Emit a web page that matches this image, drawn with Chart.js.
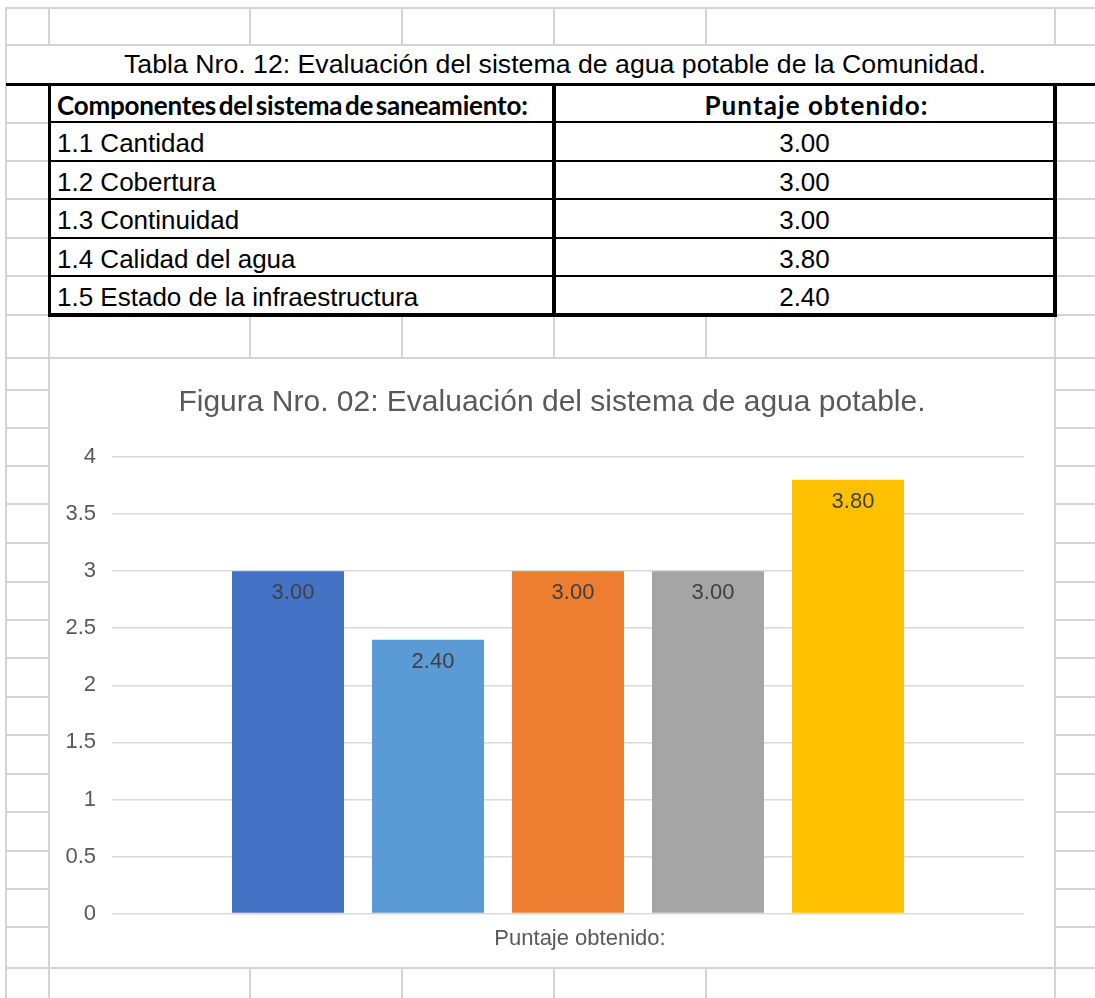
<!DOCTYPE html>
<html lang="es">
<head>
<meta charset="utf-8">
<title>Evaluación del sistema de agua potable</title>
<script src="https://cdn.jsdelivr.net/npm/chart.js@4.4.1/dist/chart.umd.min.js"></script>
<style>
  html, body { margin: 0; padding: 0; background: #fff; }
  #hoja { position: relative; width: 1095px; height: 998px; overflow: hidden; background: #fff;
          font-family: "Liberation Sans", Arial, sans-serif; color: #000; }
  .lin { position: absolute; background: #d4d4d4; }
  .blanco { position: absolute; background: #fff; }
  .negro { position: absolute; background: #000; }
  .txt { position: absolute; height: 38px; line-height: 38px; font-size: 26px; white-space: nowrap; }
  .cab { font-family: Lato, "Noto Sans", sans-serif; font-weight: bold; }
  #grafico { position: absolute; left: 50px; top: 359px; width: 1004px; height: 608px; background: #fff; }
</style>
</head>
<body>
<div id="hoja">
  <div id="grafico"><canvas id="evaluacionChart"></canvas></div>
</div>
<script>
// Datos de la tabla y de la figura
const componentes = [
    "1.1 Cantidad",
    "1.2 Cobertura",
    "1.3 Continuidad",
    "1.4 Calidad del agua",
    "1.5 Estado de la infraestructura",
];
const puntajes = [3.00, 3.00, 3.00, 3.80, 2.40];
// Orden en que aparecen las barras en la figura (índices de componentes)
const ordenFigura = [0, 4, 1, 2, 3];
const categoriaEje = ["Puntaje obtenido:"];
const encabezados = ["Componentes del sistema de saneamiento:", "Puntaje obtenido:"];

const colores = ["#4472C4", "#5B9BD5", "#ED7D31", "#A5A5A5", "#FFC000"];

// Cuadrícula de la hoja de cálculo
const hoja = document.getElementById("hoja");
const grafico = document.getElementById("grafico");

function caja(clase, x, y, w, h, texto) {
    const d = document.createElement("div");
    d.className = clase;
    d.style.left = x + "px";
    d.style.top = y + "px";
    if (w != null) d.style.width = w + "px";
    if (h != null) d.style.height = h + "px";
    if (texto != null) d.textContent = texto;
    hoja.insertBefore(d, grafico);
    return d;
}

const colX = [6, 49, 250, 402, 554, 706, 1055];
const filaY = [8, 45, 84, 123, 161, 199, 238, 276, 315, 358, 390, 428, 466, 504, 543,
               582, 620, 658, 697, 735, 774, 812, 851, 889, 927, 968];

colX.forEach(x => caja("lin", x - 1, 8, 2, 990));
filaY.forEach(y => caja("lin", 5, y - 1, 1090, 2));

// Fila del título (celdas combinadas) y zona de la tabla
caja("blanco", 7, 46, 1088, 37);
caja("blanco", 48, 83, 1009, 234);

const t = caja("txt", 4, 45, 1102, null, "Tabla Nro. 12: Evaluación del sistema de agua potable de la Comunidad.");
t.style.textAlign = "center";
t.style.fontSize = "26.7px";

// Bordes de la tabla
caja("negro", 6, 83, 1089, 3);
caja("negro", 48, 83, 3, 234);
caja("negro", 1053, 83, 4, 234);
caja("negro", 552, 83, 4, 234);
caja("negro", 48, 313, 1009, 4);
[122, 161, 199, 238, 276].forEach(y => caja("negro", 48, y - 1, 1009, 2));

// Encabezados
const c1 = caja("txt cab", 57, 86, null, null, encabezados[0]);
c1.style.wordSpacing = "-3.5px";
c1.style.letterSpacing = "-0.2px";
const c2 = caja("txt cab", 556, 86, 497, null, encabezados[1]);
c2.style.textAlign = "center";
c2.style.letterSpacing = "1.1px";
c2.style.paddingLeft = "24px";
c2.style.boxSizing = "border-box";

// Filas
const filasTop = [124, 163, 201, 240, 278];
componentes.forEach((nombre, i) => {
    caja("txt", 57, filasTop[i], null, null, nombre);
    const v = caja("txt", 556, filasTop[i], 497, null, puntajes[i].toFixed(2));
    v.style.textAlign = "center";
});

// Etiquetas de datos dentro del extremo de cada barra
const etiquetasDatos = {
    id: "etiquetasDatos",
    afterDatasetsDraw(chart) {
        const ctx = chart.ctx;
        ctx.save();
        ctx.font = "22px 'Liberation Sans', Arial, sans-serif";
        ctx.fillStyle = "#404040";
        ctx.textAlign = "center";
        ctx.textBaseline = "middle";
        chart.data.datasets.forEach((ds, i) => {
            chart.getDatasetMeta(i).data.forEach((barra, j) => {
                ctx.fillText(ds.data[j].toFixed(2), barra.x + 5, barra.y + 22);
            });
        });
        ctx.restore();
    },
};

Chart.defaults.font.family = "'Liberation Sans', Arial, sans-serif";

const ctx = document.getElementById("evaluacionChart").getContext("2d");
new Chart(ctx, {
    type: "bar",
    data: {
        labels: categoriaEje,
        datasets: ordenFigura.map((k, i) => ({
            label: componentes[k],
            data: [puntajes[k]],
            backgroundColor: colores[i],
            borderWidth: 0,
            categoryPercentage: 0.7675,
            barPercentage: 0.8,
        })),
    },
    options: {
        responsive: true,
        maintainAspectRatio: false,
        animation: false,
        layout: { padding: { left: 0, right: 0, top: 0, bottom: 3 } },
        plugins: {
            legend: { display: false },
            tooltip: { enabled: false },
            title: {
                display: true,
                text: "Figura Nro. 02: Evaluación del sistema de agua potable.",
                color: "#595959",
                font: { size: 30, weight: "normal" },
                padding: { top: 26, bottom: 36 },
            },
        },
        scales: {
            x: {
                grid: { display: false, drawTicks: false },
                border: { display: false },
                ticks: { color: "#595959", font: { size: 22 }, padding: 12, labelOffset: 12 },
            },
            y: {
                min: 0,
                max: 4,
                ticks: {
                    stepSize: 0.5,
                    color: "#595959",
                    font: { size: 22 },
                    padding: 16,
                    callback: (v) => String(v),
                },
                grid: { color: "#D9D9D9", lineWidth: 1.5, drawTicks: false },
                border: { display: false },
                afterFit(scale) { scale.width = 62; },
            },
            // margen derecho del área de trazado
            margen: {
                type: "linear",
                position: "right",
                grid: { display: false, drawTicks: false },
                border: { display: false },
                ticks: { display: false },
                afterFit(scale) { scale.width = 30; },
            },
        },
    },
    plugins: [etiquetasDatos],
});
</script>
</body>
</html>
